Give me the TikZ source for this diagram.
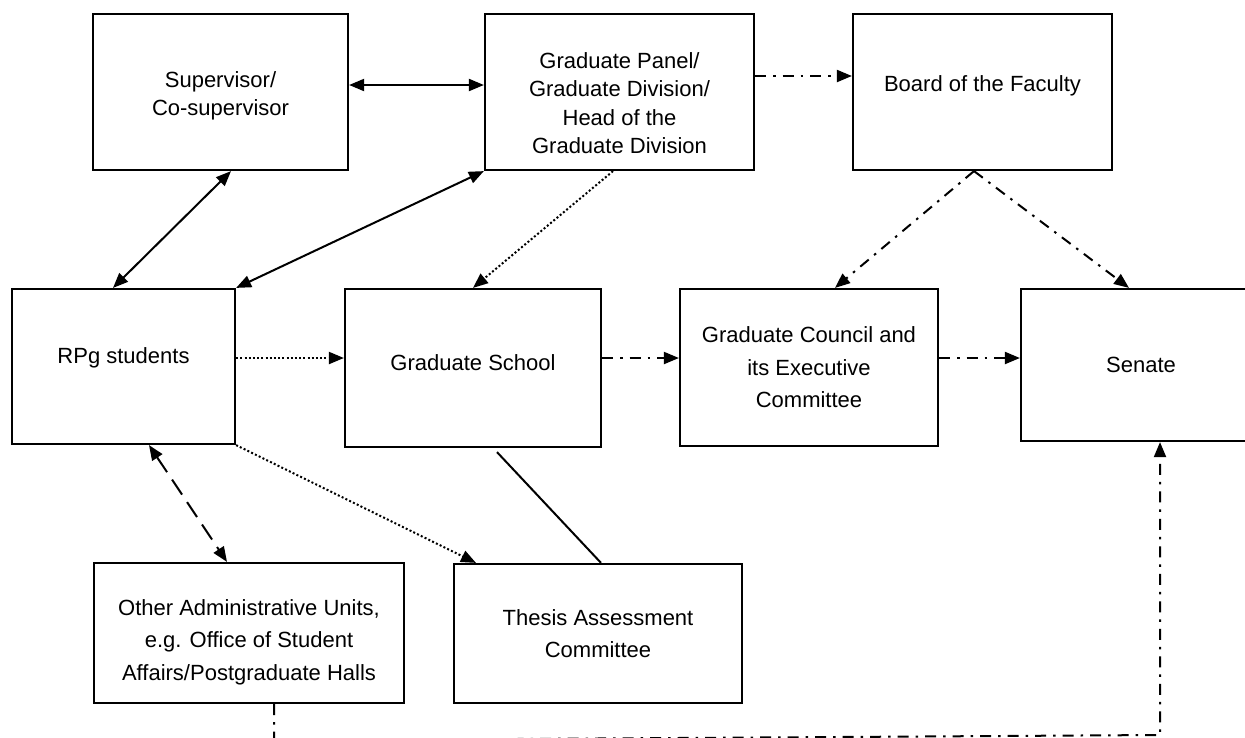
\documentclass[tikz,border=0pt]{standalone}
\usepackage{fontspec}
\setmainfont{Liberation Sans}
\usetikzlibrary{arrows.meta}

\begin{document}
\begin{tikzpicture}[x=1pt,y=-1pt,
        box/.style={draw,line width=2.2pt,inner sep=0pt},
        lbl/.style={align=center,inner sep=0pt,font=\fontsize{22}{28.5}\selectfont},
        lbllow/.style={lbl,font=\fontsize{22}{32.5}\selectfont},
        link/.style={line width=2pt,>={Triangle[length=15pt,width=12pt]}},
        dotline/.style={link,dash pattern=on 2pt off 2.2pt},
        dashdot/.style={link,dash pattern=on 11pt off 7pt on 2.5pt off 7pt},
        dashline/.style={link,dash pattern=on 18pt off 9pt}]
            \useasboundingbox (0,0) rectangle (1245,737);
            \clip (0,0) rectangle (1245,737);

            \node[box,minimum width=255pt,minimum height=156pt,label={[lbl,yshift=-4pt]center:Supervisor/\\Co-supervisor}] (sup) at (220.5,92) {};
            \node[box,minimum width=269pt,minimum height=156pt,label={[lbl,yshift=-11pt]center:Graduate Panel/\\Graduate Division/\\Head of the\\Graduate Division}] (panel) at (619.5,92) {};
            \node[box,minimum width=259pt,minimum height=156pt,label={[lbl,yshift=6.5pt]center:Board of the Faculty}] (board) at (982.5,92) {};

            \node[box,minimum width=223pt,minimum height=155pt,label={[lbl,yshift=9pt]center:RPg students}] (rpg) at (123.5,366.5) {};
            \node[box,minimum width=256pt,minimum height=158pt,label={[lbl,yshift=5pt]center:Graduate School}] (school) at (473,368) {};
            \node[box,minimum width=258pt,minimum height=157pt,label={[lbllow]center:Graduate Council and\\its Executive\\Committee}] (council) at (809,367.5) {};
            \node[box,minimum width=240pt,minimum height=152pt,label={[lbl]center:Senate}] (senate) at (1141,365) {};

            \node[box,minimum width=310pt,minimum height=140pt,label={[lbllow,yshift=-9pt]center:Other Administrative Units,\\e.g. Office of Student\\Affairs/Postgraduate Halls}] (admin) at (249,633) {};
            \node[box,minimum width=288pt,minimum height=139pt,label={[lbllow]center:Thesis Assessment\\Committee}] (thesis) at (598,633.5) {};

            \draw[link,<->] ([yshift=7pt]sup.east) -- ([yshift=7pt]panel.west);
            \draw[link,<->] ([xshift=10.5pt]sup.south) -- ([xshift=-10.5pt]rpg.north);
            \draw[link,<->] (panel.south west) -- (rpg.north east);
            \draw[dotline,->] ([xshift=-6.5pt]panel.south) -- (school.north);
            \draw[dashdot,->] ([yshift=16pt]panel.east) -- ([yshift=16pt]board.west);

            \draw[dashdot,->] ([xshift=-8.5pt]board.south) -- ([xshift=26pt]council.north);
            \draw[dashdot,->] ([xshift=-8.5pt]board.south) -- ([xshift=-12pt]senate.north);

            \draw[dotline,->] ([yshift=8.5pt]rpg.east) -- ([yshift=10pt]school.west);
            \draw[dashdot,->] ([yshift=10pt]school.east) -- ([yshift=9.5pt]council.west);
            \draw[dashdot,->] ([yshift=9.5pt]council.east) -- ([yshift=7pt]senate.west);

            \draw[dashline,<->] ([xshift=25.5pt]rpg.south) -- ([xshift=-22pt]admin.north);
            \draw[dotline,->] (rpg.south east) -- ([xshift=-122pt]thesis.north);
            \draw[link] ([xshift=24pt,yshift=-4pt]school.south) -- ([xshift=3pt]thesis.north);

            % runs along the bottom edge, half cut off
            \coordinate (low1) at (274,740.5);
            \coordinate (low2) at (1160,735);
            \draw[dashdot,->] ([xshift=25pt]admin.south) -- (low1) -- (low2) -- ([xshift=19pt]senate.south);
        \end{tikzpicture}
\end{document}
